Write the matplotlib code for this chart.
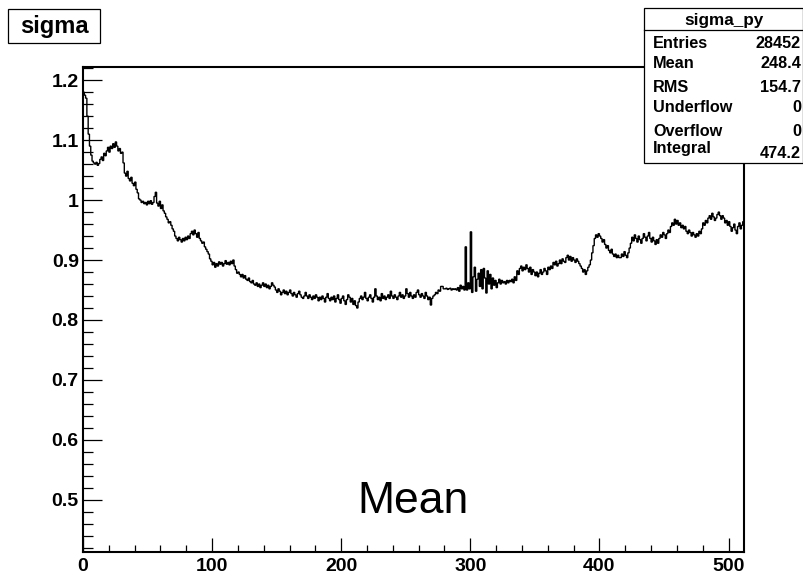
import matplotlib
matplotlib.use("Agg")
import matplotlib.pyplot as plt
from matplotlib.ticker import MultipleLocator, FuncFormatter
from matplotlib.patches import Rectangle
import numpy as np

plt.rcParams['font.family'] = ['Liberation Sans', 'DejaVu Sans']

# histogram "sigma_py": 512 bins on [0, 512]
bin_lo, bin_hi = 0, 512
sigma = [
    1.180, 1.175, 1.170, 1.140, 1.110, 1.090, 1.075, 1.065, 1.062, 1.060, 1.063, 1.058, 1.061, 1.068, 1.072, 1.066,
    1.078, 1.074, 1.082, 1.088, 1.080, 1.090, 1.086, 1.094, 1.088, 1.097, 1.090, 1.082, 1.086, 1.078, 1.080, 1.062,
    1.045, 1.040, 1.048, 1.036, 1.032, 1.038, 1.028, 1.024, 1.030, 1.018, 1.012, 1.002, 1.000, 0.996, 0.998, 0.994,
    0.996, 0.992, 0.998, 0.994, 0.999, 0.993, 0.996, 1.006, 1.013, 0.995, 0.990, 0.998, 0.986, 0.992, 0.982, 0.978,
    0.972, 0.968, 0.962, 0.964, 0.958, 0.952, 0.948, 0.940, 0.936, 0.932, 0.938, 0.934, 0.930, 0.936, 0.932, 0.938,
    0.934, 0.940, 0.936, 0.944, 0.948, 0.942, 0.950, 0.944, 0.938, 0.946, 0.936, 0.932, 0.928, 0.930, 0.922, 0.918,
    0.914, 0.910, 0.902, 0.898, 0.892, 0.896, 0.888, 0.894, 0.890, 0.897, 0.893, 0.896, 0.890, 0.894, 0.899, 0.893,
    0.896, 0.892, 0.898, 0.894, 0.900, 0.890, 0.884, 0.878, 0.880, 0.876, 0.872, 0.876, 0.870, 0.874, 0.868, 0.866,
    0.870, 0.864, 0.862, 0.866, 0.860, 0.858, 0.862, 0.856, 0.860, 0.854, 0.858, 0.862, 0.856, 0.860, 0.854, 0.858,
    0.852, 0.856, 0.862, 0.858, 0.855, 0.850, 0.846, 0.852, 0.848, 0.842, 0.846, 0.850, 0.844, 0.848, 0.842, 0.846,
    0.850, 0.844, 0.840, 0.846, 0.842, 0.838, 0.844, 0.848, 0.842, 0.838, 0.836, 0.840, 0.846, 0.840, 0.836, 0.842,
    0.838, 0.834, 0.840, 0.836, 0.842, 0.838, 0.832, 0.838, 0.834, 0.840, 0.836, 0.830, 0.838, 0.844, 0.836, 0.832,
    0.838, 0.834, 0.840, 0.830, 0.836, 0.842, 0.834, 0.828, 0.836, 0.840, 0.832, 0.826, 0.834, 0.842, 0.838, 0.830,
    0.836, 0.826, 0.832, 0.824, 0.820, 0.830, 0.836, 0.840, 0.834, 0.838, 0.846, 0.836, 0.832, 0.838, 0.842, 0.836,
    0.830, 0.838, 0.852, 0.840, 0.834, 0.838, 0.832, 0.844, 0.836, 0.840, 0.834, 0.838, 0.842, 0.836, 0.848, 0.840,
    0.836, 0.842, 0.838, 0.834, 0.840, 0.846, 0.838, 0.842, 0.836, 0.840, 0.852, 0.844, 0.838, 0.846, 0.840, 0.836,
    0.842, 0.838, 0.846, 0.850, 0.842, 0.838, 0.844, 0.840, 0.836, 0.846, 0.840, 0.834, 0.838, 0.825, 0.836, 0.840,
    0.842, 0.846, 0.844, 0.850, 0.848, 0.856, 0.856, 0.852, 0.852, 0.853, 0.851, 0.852, 0.853, 0.850, 0.852, 0.851,
    0.852, 0.850, 0.854, 0.848, 0.858, 0.852, 0.856, 0.850, 0.922, 0.850, 0.862, 0.852, 0.947, 0.846, 0.872, 0.888,
    0.848, 0.868, 0.878, 0.856, 0.884, 0.852, 0.886, 0.870, 0.845, 0.882, 0.860, 0.876, 0.852, 0.870, 0.858, 0.866,
    0.854, 0.862, 0.868, 0.860, 0.866, 0.862, 0.864, 0.860, 0.866, 0.862, 0.866, 0.864, 0.868, 0.862, 0.872, 0.866,
    0.882, 0.876, 0.886, 0.890, 0.882, 0.888, 0.884, 0.892, 0.886, 0.880, 0.888, 0.876, 0.884, 0.880, 0.874, 0.880,
    0.872, 0.878, 0.884, 0.876, 0.880, 0.886, 0.882, 0.876, 0.888, 0.884, 0.890, 0.886, 0.896, 0.892, 0.898, 0.890,
    0.894, 0.900, 0.894, 0.902, 0.898, 0.896, 0.904, 0.908, 0.900, 0.906, 0.898, 0.904, 0.900, 0.896, 0.902, 0.898,
    0.894, 0.890, 0.886, 0.880, 0.884, 0.876, 0.882, 0.888, 0.892, 0.900, 0.912, 0.924, 0.936, 0.942, 0.938, 0.944,
    0.940, 0.936, 0.930, 0.934, 0.926, 0.920, 0.924, 0.916, 0.912, 0.918, 0.910, 0.906, 0.910, 0.904, 0.908, 0.904,
    0.904, 0.910, 0.906, 0.914, 0.908, 0.904, 0.912, 0.920, 0.928, 0.938, 0.932, 0.942, 0.936, 0.930, 0.940, 0.934,
    0.928, 0.936, 0.944, 0.938, 0.932, 0.940, 0.946, 0.936, 0.930, 0.938, 0.932, 0.926, 0.934, 0.928, 0.936, 0.942,
    0.938, 0.946, 0.942, 0.936, 0.944, 0.950, 0.946, 0.956, 0.962, 0.958, 0.968, 0.960, 0.966, 0.958, 0.962, 0.954,
    0.958, 0.952, 0.956, 0.948, 0.944, 0.950, 0.946, 0.940, 0.946, 0.942, 0.938, 0.944, 0.940, 0.948, 0.944, 0.952,
    0.962, 0.958, 0.966, 0.962, 0.970, 0.974, 0.968, 0.978, 0.972, 0.966, 0.970, 0.976, 0.980, 0.974, 0.968, 0.974,
    0.970, 0.962, 0.966, 0.958, 0.964, 0.956, 0.948, 0.954, 0.960, 0.950, 0.944, 0.956, 0.962, 0.952, 0.958, 0.964,
]

stat_title = "sigma_py"
stat_names = ["Entries", "Mean", "RMS", "Underflow", "Overflow", "Integral"]
stat_values = ["28452", "248.4", "154.7", "0", "0", "474.2"]

W, H = 804, 579
fig = plt.figure(figsize=(W / 100, H / 100), dpi=100)


def fx(px):
    return px / W


def fy(py):
    return 1 - py / H


ax = fig.add_axes([fx(83), fy(552), fx(744) - fx(83), fy(67) - fy(552)])

edges = np.linspace(bin_lo, bin_hi, len(sigma) + 1)
ax.stairs(sigma, edges, color='black', lw=1.0)

ax.set_xlim(bin_lo, bin_hi)
ax.set_ylim(0.413, 1.222)

ax.xaxis.set_major_locator(MultipleLocator(100))
ax.xaxis.set_minor_locator(MultipleLocator(20))
ax.yaxis.set_major_locator(MultipleLocator(0.1))
ax.yaxis.set_minor_locator(MultipleLocator(0.02))
ax.yaxis.set_major_formatter(FuncFormatter(lambda v, p: "%g" % round(v, 2)))

ax.tick_params(axis='x', which='major', direction='in', length=10, width=0.9, pad=4,
               labelsize=14)
ax.tick_params(axis='x', which='minor', direction='in', length=5, width=0.9)
ax.tick_params(axis='y', which='major', direction='in', length=13.5, width=0.9, pad=3,
               labelsize=14)
ax.tick_params(axis='y', which='minor', direction='in', length=7, width=0.9)
for lab in ax.get_xticklabels() + ax.get_yticklabels():
    lab.set_fontweight('bold')
for sp in ax.spines.values():
    sp.set_linewidth(1.5)

# title box
fig.patches.append(Rectangle((fx(8), fy(43)), fx(100) - fx(8), fy(9) - fy(43),
                             transform=fig.transFigure, fill=False, ec='black', lw=0.9))
fig.text(fx(54), fy(26), "sigma", ha='center', va='center', fontsize=17, fontweight='bold')

# stats box
fig.patches.append(Rectangle((fx(644), fy(163)), fx(803) - fx(644), fy(8) - fy(163),
                             transform=fig.transFigure, fc='white', ec='black', lw=0.9,
                             zorder=5))
fig.lines.append(plt.Line2D([fx(644), fx(803)], [fy(30), fy(30)], transform=fig.transFigure,
                            color='black', lw=0.9, zorder=6))
fig.text(fx(724), fy(20), stat_title, ha='center', va='center', fontsize=12.3,
         fontweight='bold', zorder=7)
row_y = [43, 64, 87, 108, 131, 149]
val_y = [43, 64, 87, 108, 131, 154]
for name, val, ly, vy in zip(stat_names, stat_values, row_y, val_y):
    fig.text(fx(653), fy(ly), name, ha='left', va='center', fontsize=11.7,
             fontweight='bold', zorder=7)
    fig.text(fx(801), fy(vy), val, ha='right', va='center', fontsize=11.7,
             fontweight='bold', zorder=7)

fig.text(fx(413), fy(513), "Mean", ha='center', va='baseline', fontsize=32)

fig.savefig("out.png", dpi=100, facecolor='white')
